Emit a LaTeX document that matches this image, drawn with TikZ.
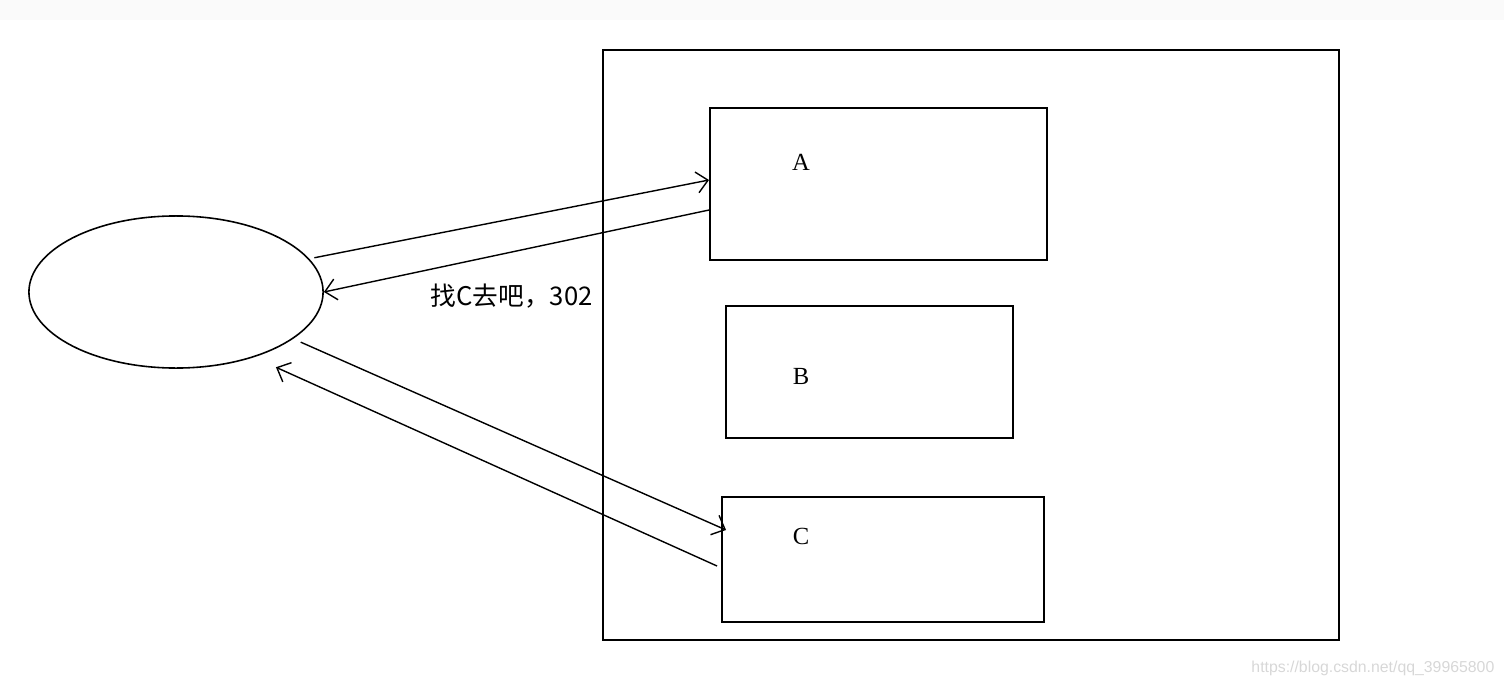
\documentclass[tikz,border=0pt]{standalone}
\usepackage{fontspec}
\setmainfont{Liberation Serif}
\newfontfamily\cjk{Noto Sans CJK SC}
\newfontfamily\wm{Liberation Sans}
\usetikzlibrary{arrows.meta,shapes.geometric}
\definecolor{band}{RGB}{250,250,250}
\definecolor{wmgray}{RGB}{215,215,215}
\begin{document}
\begin{tikzpicture}[x=0.01cm,y=-0.01cm,
  box/.style={draw=black,line width=0.5pt,inner sep=0pt,rectangle},
  oval/.style={draw=black,line width=0.45pt,ellipse,inner sep=0pt,minimum width=2.94cm,minimum height=1.52cm},
  lbl/.style={font=\fontsize{7}{8}\selectfont,inner sep=0pt},
  conn/.style={line width=0.4pt,-{Straight Barb[length=3.2pt,width=6pt]}}]
\useasboundingbox (0,0) rectangle (1504,688);
\fill[band] (0,0) rectangle (1504,20);
\node[box,minimum width=7.36cm,minimum height=5.90cm] (big) at (971,345) {};
\node[box,minimum width=3.37cm,minimum height=1.52cm] (A) at (878.5,184) {};
\node[box,minimum width=2.87cm,minimum height=1.32cm] (B) at (869.5,372) {};
\node[box,minimum width=3.22cm,minimum height=1.25cm] (C) at (883,559.5) {};
\node[lbl] (la) at (801,162) {A};
\node[lbl] (lb) at (801,376) {B};
\node[lbl] (lc) at (801,536) {C};
\node[oval] (E) at (176,292) {};
\node[font=\cjk\fontsize{7.3}{9}\selectfont,inner sep=0pt,anchor=west] (msg) at (430,296) {找C去吧，302};
\node[font=\wm\fontsize{4.5}{5}\selectfont,text=wmgray,inner sep=0pt,anchor=east] (wmk) at (1495,668) {https://blog.csdn.net/qq\_39965800};
\draw[conn] ([shift={(5,-1)}]E.14) -- ([yshift=0.04cm]A.west);
\draw[conn] ([yshift=-0.26cm]A.west) -- (E.east);
\draw[conn] ([shift={(8,3)}]E.-22) -- ([shift={(5,-29.5)}]C.west);
\draw[conn] ([shift={(-4,6.5)}]C.west) -- ([shift={(16,12)}]E.-37);
\end{tikzpicture}
\end{document}
